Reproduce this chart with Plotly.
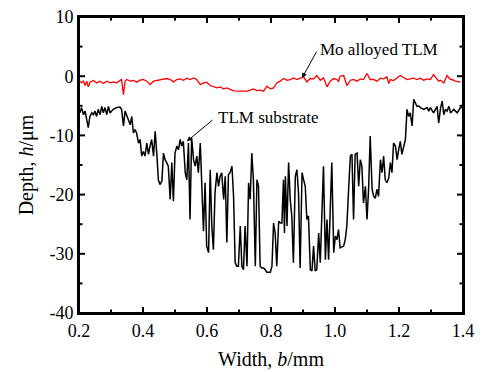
import plotly.graph_objects as go

# TLM substrate profile (black)
width_substrate = [0.203,0.208,0.214,0.219,0.224,0.229,0.234,0.240,0.245,0.250,0.255,0.260,0.266,0.271,0.276,0.281,0.287,0.292,0.297,0.307,0.318,0.328,0.333,0.339,0.344,0.349,0.354,0.360,0.365,0.370,0.375,0.380,0.386,0.391,0.396,0.401,0.406,0.412,0.417,0.422,0.427,0.433,0.438,0.443,0.448,0.453,0.459,0.464,0.469,0.474,0.479,0.485,0.490,0.495,0.500,0.506,0.511,0.516,0.521,0.526,0.532,0.537,0.542,0.547,0.552,0.558,0.563,0.568,0.573,0.579,0.584,0.589,0.594,0.599,0.605,0.610,0.615,0.620,0.625,0.631,0.636,0.641,0.646,0.652,0.657,0.662,0.667,0.672,0.678,0.683,0.688,0.693,0.698,0.704,0.709,0.714,0.719,0.725,0.730,0.735,0.740,0.745,0.751,0.756,0.761,0.766,0.771,0.777,0.782,0.787,0.792,0.798,0.803,0.808,0.813,0.818,0.824,0.829,0.834,0.839,0.842,0.845,0.850,0.855,0.860,0.865,0.870,0.876,0.881,0.886,0.891,0.897,0.902,0.907,0.912,0.917,0.923,0.928,0.933,0.938,0.943,0.949,0.954,0.959,0.964,0.970,0.975,0.980,0.985,0.990,0.996,1.001,1.006,1.011,1.016,1.027,1.032,1.037,1.043,1.048,1.053,1.058,1.063,1.069,1.074,1.079,1.084,1.089,1.095,1.100,1.105,1.110,1.116,1.121,1.126,1.131,1.136,1.142,1.147,1.152,1.157,1.162,1.168,1.173,1.178,1.183,1.189,1.194,1.199,1.204,1.209,1.215,1.220,1.225,1.230,1.235,1.241,1.246,1.251,1.256,1.261,1.267,1.277,1.288,1.293,1.298,1.308,1.319,1.324,1.330,1.335,1.340,1.345,1.350,1.356,1.361,1.371,1.382,1.392,1.397]
depth_substrate = [-6.2,-5.3,-6.5,-5.9,-7.3,-8.7,-6.8,-6.2,-6.5,-5.9,-6.8,-5.6,-6.5,-5.1,-6.2,-5.3,-6.5,-5.1,-6.2,-5.6,-5.3,-5.2,-5.6,-8.4,-5.9,-6.5,-7.3,-8.2,-6.8,-9.6,-9.0,-9.6,-11.3,-10.7,-13.5,-12.7,-13.5,-11.3,-13.2,-11.8,-10.7,-13.5,-9.3,-13.0,-17.5,-18.3,-17.7,-13.0,-14.1,-14.6,-15.2,-20.8,-14.6,-21.1,-13.0,-11.8,-12.4,-10.7,-11.8,-11.0,-16.3,-17.5,-11.3,-24.2,-10.4,-14.1,-15.2,-13.5,-16.3,-11.3,-18.0,-26.2,-18.0,-28.7,-29.8,-15.8,-25.3,-29.3,-19.7,-16.3,-18.6,-16.9,-16.3,-20.8,-16.9,-28.1,-16.6,-16.3,-15.2,-20.3,-31.5,-32.1,-32.1,-25.3,-32.1,-32.7,-25.3,-32.1,-18.0,-20.8,-13.0,-17.5,-32.1,-17.5,-18.6,-32.1,-32.4,-32.4,-32.7,-33.1,-33.1,-33.1,-32.1,-24.8,-26.5,-32.1,-24.5,-24.8,-24.8,-17.5,-26.5,-16.9,-25.3,-14.6,-20.8,-23.6,-31.5,-16.9,-15.8,-19.7,-32.4,-16.3,-17.5,-18.6,-24.2,-23.6,-32.7,-32.9,-28.7,-32.9,-32.7,-26.5,-31.5,-23.6,-15.2,-31.0,-24.2,-31.0,-22.0,-14.6,-29.8,-27.0,-27.6,-25.9,-29.0,-28.7,-27.6,-25.3,-18.6,-13.5,-13.2,-24.2,-13.2,-13.0,-18.6,-14.1,-15.2,-21.4,-18.6,-24.2,-19.1,-10.1,-19.1,-20.3,-20.6,-19.1,-20.3,-14.1,-16.3,-13.5,-17.5,-18.0,-17.2,-14.6,-16.3,-11.3,-11.8,-14.1,-12.4,-11.0,-13.2,-11.8,-10.7,-5.6,-6.8,-6.2,-8.4,-3.9,-4.5,-5.1,-5.0,-5.3,-5.6,-5.3,-5.9,-5.3,-6.2,-5.1,-7.9,-5.3,-4.2,-6.5,-5.6,-5.9,-5.1,-6.2,-5.6,-6.2,-5.3,-5.3]

# Mo alloyed TLM profile (red)
width_mo = [0.203,0.208,0.214,0.219,0.224,0.229,0.234,0.245,0.255,0.266,0.276,0.287,0.297,0.307,0.318,0.328,0.333,0.339,0.344,0.349,0.360,0.370,0.380,0.391,0.401,0.412,0.422,0.433,0.443,0.453,0.464,0.474,0.485,0.495,0.506,0.516,0.526,0.537,0.547,0.558,0.568,0.579,0.589,0.599,0.610,0.620,0.631,0.641,0.652,0.662,0.683,0.704,0.725,0.735,0.745,0.756,0.766,0.777,0.787,0.798,0.808,0.818,0.829,0.839,0.850,0.860,0.870,0.881,0.891,0.902,0.912,0.923,0.933,0.943,0.954,0.964,0.975,0.985,0.996,1.006,1.011,1.016,1.027,1.037,1.048,1.058,1.069,1.079,1.089,1.100,1.110,1.121,1.131,1.142,1.152,1.162,1.168,1.173,1.183,1.194,1.204,1.225,1.235,1.246,1.256,1.267,1.277,1.288,1.298,1.308,1.324,1.330,1.340,1.350,1.361,1.366,1.376,1.392,1.397]
depth_mo = [-0.84,-1.13,-0.84,-1.58,-0.84,-1.80,-1.01,-0.73,-1.13,-0.84,-1.24,-0.84,-1.13,-0.96,-1.13,-0.84,-0.56,-3.10,-0.84,-0.56,-0.84,-0.73,-1.01,-0.68,-0.56,-0.84,-1.41,-0.84,-0.73,-0.56,-0.45,-0.39,-0.56,-0.96,-0.56,-0.45,-0.68,-0.34,-0.56,-0.28,-0.56,-1.41,-1.13,-1.01,-1.58,-1.80,-1.97,-1.80,-2.14,-1.97,-2.48,-2.53,-2.53,-2.36,-2.14,-2.42,-2.36,-2.53,-1.69,-2.14,-1.97,-1.13,-0.84,-0.39,-0.68,-0.56,-0.28,-0.56,-0.34,-0.11,-0.96,-0.39,-0.45,0.11,-0.68,-0.28,-1.80,-0.84,-0.39,-0.56,-0.84,0.0,0.11,-1.58,-0.68,-0.56,-0.84,-0.45,-0.56,0.45,-0.56,-0.56,-0.84,-0.34,-0.45,-0.11,-1.24,-0.56,-0.73,-0.28,0.11,-0.56,-0.45,-0.34,-0.56,-0.34,-0.68,-0.45,-0.56,0.28,-0.84,-0.68,-1.13,0.11,-0.56,-0.56,-0.84,-1.01]

x_ticks = [0.2, 0.4, 0.6, 0.8, 1.0, 1.2, 1.4]
x_tick_labels = ["0.2", "0.4", "0.6", "0.8", "1.0", "1.2", "1.4"]
x_minor_ticks = [0.3, 0.5, 0.7, 0.9, 1.1, 1.3]
y_ticks = [-40, -30, -20, -10, 0, 10]
y_tick_labels = ["-40", "-30", "-20", "-10", "0", "10"]
y_minor_ticks = [-35, -25, -15, -5, 5]

FONT = "Liberation Serif, Times New Roman, serif"
X_RANGE = [0.2, 1.4]
Y_RANGE = [-40, 10]
PLOT_W, PLOT_H = 384, 296  # plot-area size in px


def tick_len(length_px):
    dx = length_px * (X_RANGE[1] - X_RANGE[0]) / PLOT_W
    dy = length_px * (Y_RANGE[1] - Y_RANGE[0]) / PLOT_H
    return dx, dy


xs, ys = [], []
for vals, length in ((x_ticks[1:-1], 6), (x_minor_ticks, 3.5)):
    dx, dy = tick_len(length)
    for v in vals:
        xs += [v, v, None, v, v, None]
        ys += [Y_RANGE[0], Y_RANGE[0] + dy, None, Y_RANGE[1], Y_RANGE[1] - dy, None]
for vals, length in ((y_ticks[1:-1], 6), (y_minor_ticks, 3.5)):
    dx, dy = tick_len(length)
    for v in vals:
        xs += [X_RANGE[0], X_RANGE[0] + dx, None, X_RANGE[1], X_RANGE[1] - dx, None]
        ys += [v, v, None, v, v, None]

fig = go.Figure()
fig.add_trace(go.Scatter(x=width_substrate, y=depth_substrate, mode="lines",
                         line=dict(color="black", width=1.5), showlegend=False))
fig.add_trace(go.Scatter(x=width_mo, y=depth_mo, mode="lines",
                         line=dict(color="#ff0000", width=1.3), showlegend=False))
fig.add_trace(go.Scatter(x=xs, y=ys, mode="lines", line=dict(color="black", width=2, simplify=False),
                         showlegend=False, hoverinfo="skip", connectgaps=False, cliponaxis=False))
fig.add_trace(go.Scatter(x=[None], y=[None], xaxis="x2", yaxis="y2", showlegend=False, hoverinfo="skip"))

fig.add_annotation(x=0.897, y=-0.3, ax=0.945, ay=4.4, xref="x", yref="y", axref="x", ayref="y",
                   showarrow=True, arrowhead=2, arrowsize=1, arrowwidth=1, arrowcolor="black",
                   text="", standoff=0)
fig.add_annotation(x=0.948, y=4.5, text="Mo alloyed TLM", showarrow=False,
                   xanchor="left", yanchor="middle", font=dict(family=FONT, size=17, color="black"))
fig.add_annotation(x=0.537, y=-11.0, ax=0.622, ay=-7.2, xref="x", yref="y", axref="x", ayref="y",
                   showarrow=True, arrowhead=2, arrowsize=1, arrowwidth=1, arrowcolor="black",
                   text="", standoff=0)
fig.add_annotation(x=0.629, y=-7.0, text="TLM substrate", showarrow=False,
                   xanchor="left", yanchor="middle", font=dict(family=FONT, size=17, color="black"))

fig.add_shape(type="rect", xref="paper", yref="paper", x0=0, y0=0, x1=1, y1=1,
              line=dict(color="black", width=2), fillcolor="rgba(0,0,0,0)", layer="below")

base = dict(showline=True, linecolor="black", linewidth=2, showgrid=False, zeroline=False,
            automargin=False, layer="below traces")

fig.update_layout(
    xaxis=dict(range=X_RANGE, tickmode="array", tickvals=x_ticks, ticktext=x_tick_labels, ticks="",
               tickfont=dict(family=FONT, size=18, color="black"),
               title=dict(text="Width, <i>b</i>/mm", font=dict(family=FONT, size=20, color="black"), standoff=12),
               **base),
    yaxis=dict(range=Y_RANGE, tickmode="array", tickvals=y_ticks, ticktext=y_tick_labels, ticks="",
               tickfont=dict(family=FONT, size=18, color="black"),
               title=dict(text="Depth, <i>h</i>/μm", font=dict(family=FONT, size=20, color="black"), standoff=10),
               **base),
    xaxis2=dict(range=X_RANGE, overlaying="x", anchor="y2", side="top", showticklabels=False,
                ticks="", **base),
    yaxis2=dict(range=Y_RANGE, overlaying="y", anchor="x2", side="right", showticklabels=False,
                ticks="", **base),
    width=484, height=372, margin=dict(l=79, r=21, t=17, b=59, autoexpand=False),
    plot_bgcolor="rgba(0,0,0,0)", paper_bgcolor="white")

fig.write_html("out.html", config={"displayModeBar": False},
               post_script="document.body.style.margin='0';document.body.style.padding='0';document.body.style.overflow='hidden';")
